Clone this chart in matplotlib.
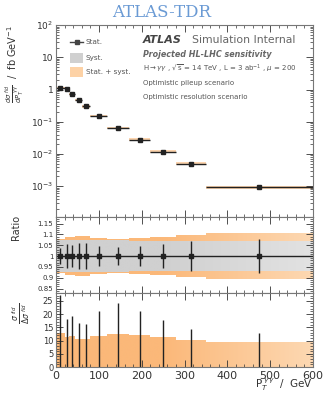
import matplotlib.pyplot as plt
import numpy as np
from matplotlib.colors import to_rgb
from matplotlib.ticker import FixedLocator, FuncFormatter, MultipleLocator, LogLocator, NullFormatter

# bin edges in pT(gamma gamma) [GeV]
bin_edges = [0, 20, 30, 45, 60, 80, 120, 170, 220, 280, 350, 600]
# fiducial differential cross section [fb / GeV]
xsec = [1.12, 1.07, 0.74, 0.48, 0.30, 0.155, 0.063, 0.028, 0.0118, 0.0050, 0.00093]
# sigma / delta sigma, stat. only
sig_stat = [27.3, 18.1, 19.4, 16.6, 16.4, 21.0, 24.1, 21.0, 17.9, 14.5, 12.9]
# sigma / delta sigma, stat. + syst.
sig_total = [12.9, 11.4, 11.6, 10.75, 10.75, 11.9, 12.5, 12.0, 11.2, 10.1, 9.5]
# relative systematic uncertainty
rel_syst = [0.073, 0.073, 0.073, 0.073, 0.073, 0.072, 0.072, 0.071, 0.071, 0.071, 0.071]

ORANGE = "#fbb879"
ORANGE_R = "#fdd8b2"
GRAY = "#d0d0d0"
GRAY_R = "#e2e2e2"
TXT = "#555555"

edges = np.array(bin_edges, dtype=float)
centers = 0.5 * (edges[:-1] + edges[1:])
halfw = 0.5 * (edges[1:] - edges[:-1])
xs = np.array(xsec)
rel_stat = 1.0 / np.array(sig_stat)
rel_tot = 1.0 / np.array(sig_total)
rs = np.array(rel_syst)


def step(vals):
    v = np.asarray(vals, dtype=float)
    return np.append(v, v[-1])


def grad_fill(ax, lo, hi, c0, c1, ylim, x0=250):
    # step band whose colour fades towards the right edge
    poly = ax.fill_between(edges, lo, hi, step="post", facecolor="none", lw=0)
    gx = np.linspace(0, 600, 400)
    t = np.clip((gx - x0) / (600 - x0), 0, 1)[:, None]
    cols = np.array(to_rgb(c0)) * (1 - t) + np.array(to_rgb(c1)) * t
    img = ax.imshow(cols[None, :, :], extent=[0, 600, ylim[0], ylim[1]],
                    aspect="auto", origin="lower", interpolation="bilinear")
    img.set_clip_path(poly.get_paths()[0], ax.transData)
    return img


def style(ax):
    ax.tick_params(which="both", direction="in", top=True, right=True,
                   labelsize=5.0, colors="#333333", pad=2)
    ax.tick_params(which="major", length=5, width=0.6)
    ax.tick_params(which="minor", length=2.5, width=0.5)
    for s in ax.spines.values():
        s.set_color("#777777")
        s.set_linewidth(0.8)
    ax.set_xlim(0, 600)
    ax.xaxis.set_major_locator(MultipleLocator(100))
    ax.xaxis.set_minor_locator(MultipleLocator(20))


fig = plt.figure(figsize=(3.24, 3.99), dpi=100)
L, R = 0.173, 0.966
ax1 = fig.add_axes([L, 0.456, R - L, 0.937 - 0.456])
ax2 = fig.add_axes([L, 0.266, R - L, 0.456 - 0.266])
ax3 = fig.add_axes([L, 0.080, R - L, 0.266 - 0.080])

# --- top panel
ax1.set_yscale("log")
ax1.fill_between(edges, step(xs * (1 - rel_tot)), step(xs * (1 + rel_tot)),
                 step="post", color=ORANGE, lw=0, alpha=0.6)
ax1.errorbar(centers, xs, xerr=halfw, yerr=xs * rel_stat, fmt="s", ms=2.2,
             color="#222222", elinewidth=1.0, capsize=0)
ax1.set_ylim(1.1e-4, 100)
style(ax1)
ax1.tick_params(axis="y", labelsize=6.5)
ax1.yaxis.set_major_locator(LogLocator(base=10, numticks=10))
ax1.yaxis.set_minor_locator(LogLocator(base=10, subs=np.arange(2, 10), numticks=20))
ax1.yaxis.set_minor_formatter(NullFormatter())


def logfmt(v, pos):
    e = int(round(np.log10(v)))
    if e == 0:
        return "1"
    if e == 1:
        return "10"
    return r"$10^{%d}$" % e


ax1.yaxis.set_major_formatter(FuncFormatter(logfmt))
ax1.xaxis.set_major_formatter(NullFormatter())

# legend-like markers
ax1.plot([0.055, 0.105], [0.91, 0.91], transform=ax1.transAxes, color="#444444", lw=1.0)
ax1.plot([0.08], [0.91], "s", ms=2.2, transform=ax1.transAxes, color="#444444")
ax1.add_patch(plt.Rectangle((0.055, 0.805), 0.05, 0.05, transform=ax1.transAxes,
                            color=GRAY, lw=0))
ax1.add_patch(plt.Rectangle((0.055, 0.73), 0.05, 0.05, transform=ax1.transAxes,
                            color="#fdd2a6", lw=0))
for yy, t in [(0.91, "Stat."), (0.83, "Syst."), (0.755, "Stat. + syst.")]:
    ax1.text(0.115, yy, t, transform=ax1.transAxes, fontsize=5.2, color=TXT,
             va="center")

ax1.text(0.339, 0.925, "ATLAS", transform=ax1.transAxes, fontsize=8.0,
         fontweight="bold", fontstyle="italic", color="#444444", va="center")
ax1.text(0.53, 0.925, "Simulation Internal", transform=ax1.transAxes,
         fontsize=7.8, color="#666666", va="center")
ax1.text(0.339, 0.845, "Projected HL-LHC sensitivity", transform=ax1.transAxes,
         fontsize=5.8, fontweight="bold", fontstyle="italic", color="#666666",
         va="center")
ax1.text(0.339, 0.77,
         r"H$\rightarrow\gamma\gamma$ , $\sqrt{\rm s}$ = 14 TeV , L = 3 ab$^{-1}$ , $\mu$ = 200",
         transform=ax1.transAxes, fontsize=5.0, color=TXT, va="center")
ax1.text(0.339, 0.70, "Optimistic pileup scenario", transform=ax1.transAxes,
         fontsize=5.0, color=TXT, va="center")
ax1.text(0.339, 0.625, "Optimistic resolution scenario", transform=ax1.transAxes,
         fontsize=5.0, color=TXT, va="center")

# --- ratio panel
r_lim = (0.83, 1.18)
grad_fill(ax2, step(1 - rel_tot), step(1 + rel_tot), ORANGE, ORANGE_R, r_lim)
grad_fill(ax2, step(1 - rs), step(1 + rs), GRAY, GRAY_R, r_lim)
ax2.axhline(1.0, color="#222222", lw=1.0)
ax2.errorbar(centers, np.ones_like(centers), yerr=rel_stat, fmt="s", ms=2.2,
             color="#222222", elinewidth=1.0, capsize=0)
style(ax2)
ax2.set_ylim(*r_lim)
ax2.yaxis.set_major_locator(FixedLocator([0.85, 0.9, 0.95, 1.0, 1.05, 1.1, 1.15]))
ax2.yaxis.set_major_formatter(FuncFormatter(lambda v, p: ("%g" % v)))
ax2.yaxis.set_minor_locator(MultipleLocator(0.01))
ax2.xaxis.set_major_formatter(NullFormatter())

# --- significance panel
s_lim = (0, 28)
grad_fill(ax3, 0, step(sig_total), ORANGE, ORANGE_R, s_lim)
ax3.vlines(centers, 0, sig_stat, color="#222222", lw=1.0)
style(ax3)
ax3.set_ylim(*s_lim)
ax3.yaxis.set_major_locator(MultipleLocator(5))
ax3.yaxis.set_minor_locator(MultipleLocator(1))
ax3.tick_params(axis="y", labelsize=6)
ax3.tick_params(axis="x", labelsize=8, pad=3)

# labels
fig.text(0.5, 0.968, "ATLAS-TDR", ha="center", va="center", fontsize=12,
         family="DejaVu Serif", color="#6a9ad4")
fig.text(0.045, 0.84,
         r"$\frac{d\sigma^{\ fid}}{dP_T^{\ \gamma\gamma}}$  /  fb GeV$^{-1}$",
         rotation=90, ha="center", va="center", fontsize=7, color="#333333")
fig.text(0.05, 0.43, "Ratio", rotation=90, ha="center", va="center",
         fontsize=7, color="#333333")
fig.text(0.065, 0.215, r"$\frac{\sigma^{\ fid}}{\Delta\sigma^{\ fid}}$",
         rotation=90, ha="center", va="center", fontsize=8, color="#333333")
fig.text(R, 0.015, r"P$_T^{\ \gamma\gamma}$  /  GeV", ha="right", va="bottom",
         fontsize=7.5, color="#333333")

fig.savefig("out.png", dpi=100)
